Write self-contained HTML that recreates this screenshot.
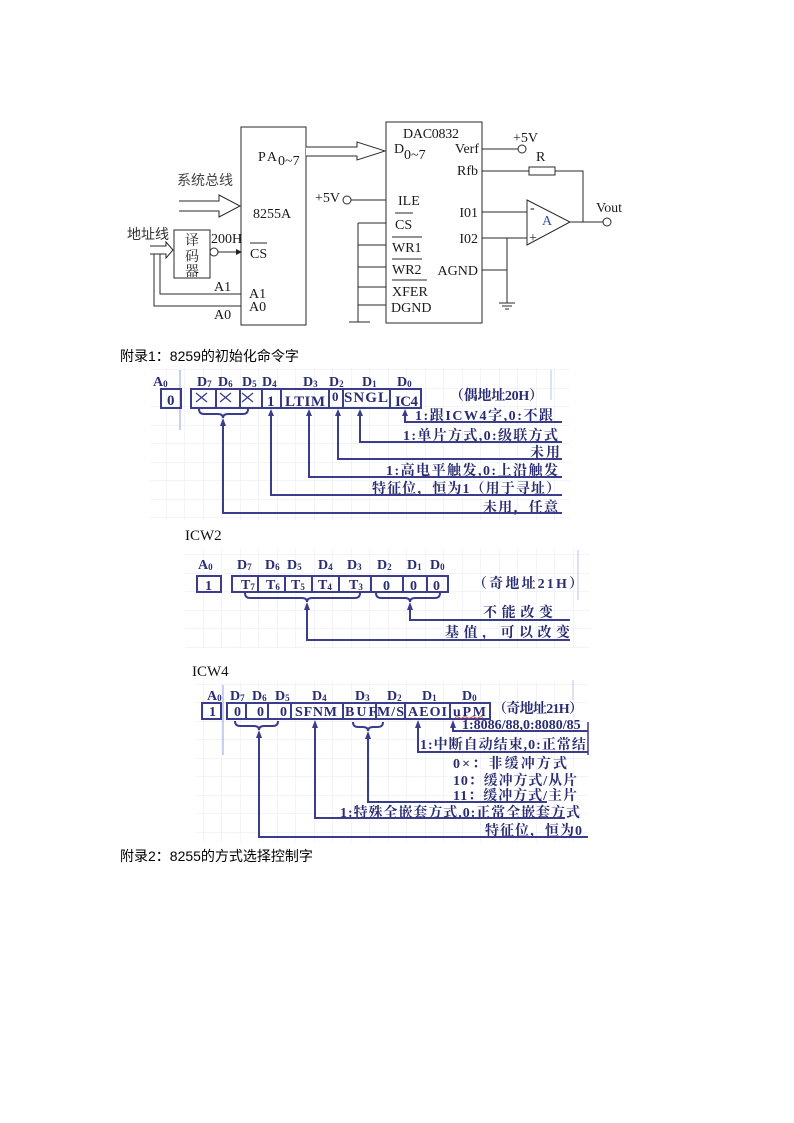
<!DOCTYPE html>
<html><head><meta charset="utf-8"><style>
html,body{margin:0;padding:0;background:#fff;}
svg{display:block;}
.c{font-family:"Liberation Serif","Noto Serif CJK SC",serif;fill:#1a1a1a;font-size:14px;}
.k{font-family:"Liberation Serif","Noto Serif CJK SC",serif;font-weight:bold;fill:#2a2c72;}
.cap{font-family:"Liberation Sans","Noto Sans CJK SC",sans-serif;font-size:14px;fill:#000;}
</style></head><body>
<svg width="794" height="1123" viewBox="0 0 794 1123" xmlns="http://www.w3.org/2000/svg">
<defs>
<pattern id="grid" width="18.5" height="18.5" patternUnits="userSpaceOnUse">
<path d="M18.5 0V18.5M0 18.5H18.5" stroke="#e6e9f4" stroke-width="1" fill="none"/>
</pattern>
<clipPath id="clip4"><rect x="180" y="660" width="408" height="190"/></clipPath>
</defs>
<rect width="794" height="1123" fill="#fff"/>

<!-- ================= TOP CIRCUIT ================= -->
<g stroke="#2a2a2a" stroke-width="1" fill="none">
  <rect x="241" y="127" width="65" height="198"/>
  <rect x="386" y="122" width="96" height="201"/>
  <path d="M306,147 H357 V142 L385,151 L357,160 V156 H306" fill="#fff"/>
  <path d="M179,201 H219 V195 L240,206 L219,217 V211 H179" fill="#fff"/>
  <path d="M150,246 H166 V242 L173,250 L166,258 V254 H160 V294 H241 M160,254 H154 V306 H241 M154,254 H150"/>
  <rect x="174" y="230" width="36" height="48"/>
  <circle cx="214" cy="252" r="4" fill="#fff"/>
  <line x1="218" y1="252" x2="236" y2="252"/>
  <line x1="482" y1="149" x2="518" y2="149"/>
  <circle cx="522" cy="149" r="4" fill="#fff"/>
  <line x1="482" y1="171" x2="529" y2="171"/>
  <rect x="529" y="167" width="26" height="8"/>
  <polyline points="555,171 583,171 583,222"/>
  <polygon points="527,200 527,245 570,222"/>
  <line x1="570" y1="222" x2="603" y2="222"/>
  <circle cx="607" cy="222" r="4" fill="#fff"/>
  <line x1="482" y1="212" x2="527" y2="212"/>
  <line x1="482" y1="238" x2="527" y2="238"/>
  <line x1="507" y1="238" x2="507" y2="303"/>
  <line x1="482" y1="270" x2="507" y2="270"/>
  <line x1="499" y1="303" x2="515" y2="303"/>
  <line x1="502" y1="306" x2="512" y2="306"/>
  <line x1="505" y1="309" x2="509" y2="309"/>
  <circle cx="347" cy="200" r="4" fill="#fff"/>
  <line x1="351" y1="200" x2="386" y2="200"/>
  <line x1="358" y1="223" x2="358" y2="322"/>
  <line x1="358" y1="223" x2="386" y2="223"/>
  <line x1="358" y1="245" x2="386" y2="245"/>
  <line x1="358" y1="267" x2="386" y2="267"/>
  <line x1="358" y1="287" x2="386" y2="287"/>
  <line x1="358" y1="305" x2="386" y2="305"/>
  <line x1="349" y1="322" x2="370" y2="322"/>
  <line x1="250" y1="243" x2="267" y2="243"/>
  <line x1="395" y1="213" x2="413" y2="213"/>
  <line x1="392" y1="237" x2="422" y2="237"/>
  <line x1="392" y1="259" x2="422" y2="259"/>
  <line x1="392" y1="280" x2="427" y2="280"/>
</g>
<polygon points="236,249 242,252 236,255" fill="#222"/>

<text class="c" x="258" y="161" font-size="15" textLength="19">PA</text>
<text class="c" x="278" y="165" font-size="12">0~7</text>
<text class="c" x="177" y="185" font-size="12" style="font-family:'Noto Sans CJK SC',sans-serif;fill:#444">系统总线</text>
<text class="c" x="253" y="218">8255A</text>
<text class="c" x="127" y="239" font-size="12" style="font-family:'Noto Sans CJK SC',sans-serif;fill:#333">地址线</text>
<text class="c" x="185" y="245" font-size="13">译</text>
<text class="c" x="185" y="261" font-size="13">码</text>
<text class="c" x="185" y="276" font-size="13">器</text>
<text class="c" x="211" y="243">200H</text>
<text class="c" x="250" y="258">CS</text>
<text class="c" x="214" y="291">A1</text>
<text class="c" x="214" y="319">A0</text>
<text class="c" x="249" y="298">A1</text>
<text class="c" x="249" y="311">A0</text>

<text class="c" x="403" y="138" textLength="56">DAC0832</text>
<text class="c" x="394" y="153" font-size="15">D</text>
<text class="c" x="404" y="159" font-size="12">0~7</text>
<text class="c" x="479" y="153" text-anchor="end">Verf</text>
<text class="c" x="513" y="142">+5V</text>
<text class="c" x="536" y="161">R</text>
<text class="c" x="478" y="175" text-anchor="end">Rfb</text>
<text class="c" x="478" y="217" text-anchor="end">I01</text>
<text class="c" x="478" y="243" text-anchor="end">I02</text>
<text class="c" x="478" y="275" text-anchor="end">AGND</text>
<text class="c" x="596" y="212" textLength="26">Vout</text>
<text class="c" x="530" y="212" font-size="12">-</text>
<text class="c" x="529" y="242" font-size="12">+</text>
<text class="c" x="542" y="225" style="fill:#3350a8">A</text>
<text class="c" x="315" y="202">+5V</text>
<text class="c" x="398" y="205">ILE</text>
<text class="c" x="395" y="229">CS</text>
<text class="c" x="392" y="252">WR1</text>
<text class="c" x="392" y="274">WR2</text>
<text class="c" x="392" y="296">XFER</text>
<text class="c" x="391" y="312">DGND</text>

<!-- ================= CAPTION 1 ================= -->
<text class="cap" x="120" y="361">附录1：8259的初始化命令字</text>

<!-- ================= ICW1 ================= -->
<rect x="150" y="368" width="420" height="152" fill="url(#grid)"/>
<line x1="180" y1="370" x2="180" y2="430" stroke="#8fa0dc" stroke-width="1"/>
<line x1="551" y1="370" x2="551" y2="400" stroke="#b8c4ec" stroke-width="1"/>
<g class="k" font-size="14">
  <text x="153" y="386">A<tspan font-size="9" dy="1">0</tspan></text>
  <text x="197" y="386">D<tspan font-size="9" dy="1">7</tspan></text>
  <text x="218" y="386">D<tspan font-size="9" dy="1">6</tspan></text>
  <text x="242" y="386">D<tspan font-size="9" dy="1">5</tspan></text>
  <text x="262" y="386">D<tspan font-size="9" dy="1">4</tspan></text>
  <text x="303" y="386">D<tspan font-size="9" dy="1">3</tspan></text>
  <text x="329" y="386">D<tspan font-size="9" dy="1">2</tspan></text>
  <text x="362" y="386">D<tspan font-size="9" dy="1">1</tspan></text>
  <text x="397" y="386">D<tspan font-size="9" dy="1">0</tspan></text>
  <text x="167" y="405" font-size="15">0</text>
  <text x="267" y="406" font-size="15">1</text>
  <text x="285" y="406" font-size="15" textLength="40">LTIM</text>
  <text x="332" y="401" font-size="13">0</text>
  <text x="344" y="402" font-size="15" textLength="44">SNGL</text>
  <text x="395" y="406" font-size="15" textLength="23">IC4</text>
  <text x="450" y="400" font-size="14" textLength="93">（偶地址20H）</text>
  <text x="415" y="420" font-size="14" textLength="138">1:跟ICW4字,0:不跟</text>
  <text x="403" y="440" font-size="14" textLength="155">1:单片方式,0:级联方式</text>
  <text x="530" y="457" font-size="14" textLength="30">未用</text>
  <text x="386" y="475" font-size="14" textLength="172">1:高电平触发,0:上沿触发</text>
  <text x="372" y="493" font-size="14" textLength="188">特征位，恒为1（用于寻址）</text>
  <text x="483" y="512" font-size="14" textLength="75">未用，任意</text>
</g>
<g stroke="#3a3c8c" stroke-width="2" fill="none">
  <rect x="161" y="389" width="20" height="19"/>
  <rect x="191" y="389" width="230" height="19"/>
  <path d="M216,389V408M240,389V408M262,389V408M281,389V408M329,389V408M343,389V408M390,389V408"/>
  <path d="M196,393L207,402M207,393L196,402M220,393L231,402M231,393L220,402M242,393L253,402M253,393L242,402" stroke-width="1.3"/>
  <path d="M199,409 Q199,414 204,414 H218 Q223,414 223,418 Q223,414 228,414 H243 Q248,414 248,409"/>
  <polyline points="223,424 223,513 562,513"/>
  <polyline points="271,414 271,495 562,495"/>
  <polyline points="309,414 309,477 562,477"/>
  <polyline points="338,414 338,459 562,459"/>
  <polyline points="360,414 360,442 562,442"/>
  <polyline points="405,414 405,422 562,422"/>
</g>
<g fill="#3a3c8c">
  <polygon points="220,426 223,418 226,426"/>
  <polygon points="268,416 271,409 274,416"/>
  <polygon points="306,416 309,409 312,416"/>
  <polygon points="335,416 338,409 341,416"/>
  <polygon points="357,416 360,409 363,416"/>
  <polygon points="402,416 405,409 408,416"/>
</g>

<!-- ================= ICW2 ================= -->
<text x="185" y="540" font-size="15" style="font-family:'Liberation Serif',serif;fill:#111">ICW2</text>
<rect x="185" y="548" width="405" height="100" fill="url(#grid)"/>
<line x1="578" y1="550" x2="578" y2="600" stroke="#b8c4ec" stroke-width="1"/>
<g class="k" font-size="14">
  <text x="198" y="569">A<tspan font-size="9" dy="1">0</tspan></text>
  <text x="237" y="569">D<tspan font-size="9" dy="1">7</tspan></text>
  <text x="265" y="569">D<tspan font-size="9" dy="1">6</tspan></text>
  <text x="287" y="569">D<tspan font-size="9" dy="1">5</tspan></text>
  <text x="318" y="569">D<tspan font-size="9" dy="1">4</tspan></text>
  <text x="347" y="569">D<tspan font-size="9" dy="1">3</tspan></text>
  <text x="377" y="569">D<tspan font-size="9" dy="1">2</tspan></text>
  <text x="407" y="569">D<tspan font-size="9" dy="1">1</tspan></text>
  <text x="430" y="569">D<tspan font-size="9" dy="1">0</tspan></text>
  <text x="205" y="590" font-size="14">1</text>
  <text x="241" y="589">T<tspan font-size="9" dy="1">7</tspan></text>
  <text x="266" y="589">T<tspan font-size="9" dy="1">6</tspan></text>
  <text x="291" y="589">T<tspan font-size="9" dy="1">5</tspan></text>
  <text x="318" y="589">T<tspan font-size="9" dy="1">4</tspan></text>
  <text x="349" y="589">T<tspan font-size="9" dy="1">3</tspan></text>
  <text x="383" y="590">0</text>
  <text x="410" y="590">0</text>
  <text x="433" y="590">0</text>
  <text x="473" y="588" font-size="14" textLength="110">（奇地址21H）</text>
  <text x="483" y="617" font-size="14" textLength="70">不能改变</text>
  <text x="445" y="637" font-size="14" textLength="125">基值，可以改变</text>
</g>
<g stroke="#3a3c8c" stroke-width="2" fill="none">
  <rect x="197" y="576" width="24" height="16"/>
  <rect x="232" y="576" width="216" height="16"/>
  <path d="M258,576V592M285,576V592M312,576V592M339,576V592M371,576V592M403,576V592M427,576V592"/>
  <path d="M245,593 Q245,598 250,598 H302 Q307,598 307,602 Q307,598 312,598 H355 Q360,598 360,593"/>
  <path d="M376,593 Q376,598 381,598 H405 Q410,598 410,602 Q410,598 415,598 H435 Q440,598 440,593"/>
  <polyline points="307,608 307,640 570,640"/>
  <polyline points="410,608 410,620 570,620"/>
</g>
<g fill="#3a3c8c">
  <polygon points="304,610 307,602 310,610"/>
  <polygon points="407,610 410,602 413,610"/>
</g>

<!-- ================= ICW4 ================= -->
<text x="192" y="676" font-size="15" style="font-family:'Liberation Serif',serif;fill:#111">ICW4</text>
<rect x="195" y="682" width="393" height="160" fill="url(#grid)"/>
<line x1="223" y1="685" x2="223" y2="755" stroke="#8fa0dc" stroke-width="1"/>
<line x1="573" y1="680" x2="573" y2="700" stroke="#b8c4ec" stroke-width="1"/>
<g clip-path="url(#clip4)">
<g class="k" font-size="14">
  <text x="207" y="700">A<tspan font-size="9" dy="1">0</tspan></text>
  <text x="230" y="700">D<tspan font-size="9" dy="1">7</tspan></text>
  <text x="252" y="700">D<tspan font-size="9" dy="1">6</tspan></text>
  <text x="275" y="700">D<tspan font-size="9" dy="1">5</tspan></text>
  <text x="312" y="700">D<tspan font-size="9" dy="1">4</tspan></text>
  <text x="355" y="700">D<tspan font-size="9" dy="1">3</tspan></text>
  <text x="387" y="700">D<tspan font-size="9" dy="1">2</tspan></text>
  <text x="422" y="700">D<tspan font-size="9" dy="1">1</tspan></text>
  <text x="462" y="700">D<tspan font-size="9" dy="1">0</tspan></text>
  <text x="209" y="716">1</text>
  <text x="234" y="716">0</text>
  <text x="257" y="716">0</text>
  <text x="280" y="716">0</text>
  <text x="295" y="716" textLength="42">SFNM</text>
  <text x="345" y="716" textLength="32">BUF</text>
  <text x="377" y="716" textLength="27">M/S</text>
  <text x="408" y="716" textLength="39">AEOI</text>
  <text x="453" y="716" textLength="33">uPM</text>
  <text x="493" y="713" textLength="90">（奇地址21H）</text>
  <text x="462" y="729">1:8086/88,0:8080/85</text>
  <text x="420" y="749" letter-spacing="1">1:中断自动结束,0:正常结束</text>
  <text x="453" y="768" textLength="114">0×：非缓冲方式</text>
  <text x="453" y="785" textLength="124">10：缓冲方式/从片</text>
  <text x="453" y="800" textLength="124">11：缓冲方式/主片</text>
  <text x="340" y="817" textLength="240">1:特殊全嵌套方式,0:正常全嵌套方式</text>
  <text x="485" y="835" textLength="97">特征位，恒为0</text>
</g>
<g stroke="#3a3c8c" stroke-width="2" fill="none">
  <rect x="202" y="703" width="19" height="16"/>
  <rect x="227" y="703" width="263" height="16"/>
  <path d="M246,703V719M268,703V719M291,703V719M343,703V719M376,703V719M405,703V719M450,703V719"/>
  <path d="M235,721 Q235,726 240,726 H254 Q259,726 259,730 Q259,726 264,726 H273 Q278,726 278,721"/>
  <path d="M353,722 Q353,727 358,727 H363 Q368,727 368,731 Q368,727 373,727 H378 Q383,727 383,722"/>
  <polyline points="259,736 259,837 588,837"/>
  <polyline points="315,726 315,818 565,818"/>
  <polyline points="368,737 368,802 547,802"/>
  <polyline points="418,726 418,752 588,752"/>
  <polyline points="453,726 453,731 588,731"/>
</g>
<path d="M455,717.5 q2,-1.5 4,0 t4,0 t4,0 t4,0 t4,0 t4,0 t4,0" stroke="#d04040" stroke-width="1" fill="none"/>
<g fill="#3a3c8c">
  <polygon points="256,738 259,730 262,738"/>
  <polygon points="312,728 315,720 318,728"/>
  <polygon points="365,739 368,731 371,739"/>
  <polygon points="415,728 418,720 421,728"/>
  <polygon points="450,728 453,720 456,728"/>
</g>
</g>
<line x1="588" y1="722" x2="588" y2="755" stroke="#3a3c8c" stroke-width="1.5"/>

<!-- ================= CAPTION 2 ================= -->
<text class="cap" x="120" y="861">附录2：8255的方式选择控制字</text>
</svg>
</body></html>
